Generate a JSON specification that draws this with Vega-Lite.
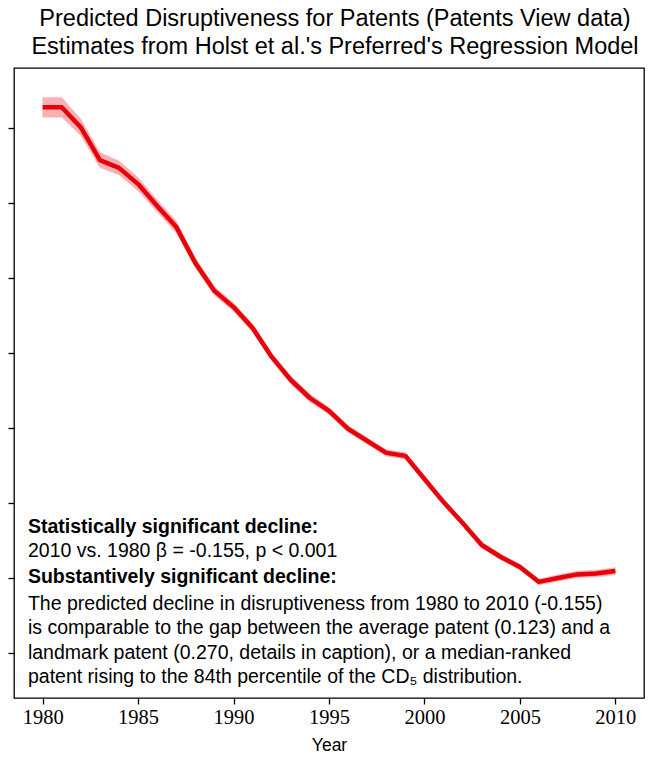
{
  "$schema": "https://vega.github.io/schema/vega-lite/v6.json",
  "autosize": "none",
  "width": 630,
  "height": 630,
  "padding": {"left": 14, "top": 68, "right": 8, "bottom": 59},
  "background": "white",
  "title": {
    "text": ["Predicted Disruptiveness for Patents (Patents View data)", "Estimates from Holst et al.'s Preferred's Regression Model"],
    "font": "Liberation Sans",
    "fontSize": 23.5,
    "fontWeight": "normal",
    "color": "black",
    "anchor": "middle",
    "lineHeight": 28,
    "offset": 10,
    "dx": 6
  },
  "datasets": {
    "pred": [
      {"year": 1980, "est": 0.1819, "lo": 0.1786, "hi": 0.1852},
      {"year": 1981, "est": 0.1819, "lo": 0.1786, "hi": 0.1852},
      {"year": 1982, "est": 0.1752, "lo": 0.1724, "hi": 0.1780},
      {"year": 1983, "est": 0.1643, "lo": 0.1618, "hi": 0.1668},
      {"year": 1984, "est": 0.1617, "lo": 0.1593, "hi": 0.1641},
      {"year": 1985, "est": 0.1563, "lo": 0.1541, "hi": 0.1585},
      {"year": 1986, "est": 0.1490, "lo": 0.1470, "hi": 0.1510},
      {"year": 1987, "est": 0.1420, "lo": 0.1400, "hi": 0.1440},
      {"year": 1988, "est": 0.1300, "lo": 0.1283, "hi": 0.1317},
      {"year": 1989, "est": 0.1207, "lo": 0.1192, "hi": 0.1222},
      {"year": 1990, "est": 0.1153, "lo": 0.1139, "hi": 0.1167},
      {"year": 1991, "est": 0.1083, "lo": 0.1069, "hi": 0.1097},
      {"year": 1992, "est": 0.0987, "lo": 0.0974, "hi": 0.1000},
      {"year": 1993, "est": 0.0910, "lo": 0.0897, "hi": 0.0923},
      {"year": 1994, "est": 0.0850, "lo": 0.0837, "hi": 0.0863},
      {"year": 1995, "est": 0.0807, "lo": 0.0795, "hi": 0.0819},
      {"year": 1996, "est": 0.0747, "lo": 0.0735, "hi": 0.0759},
      {"year": 1997, "est": 0.0707, "lo": 0.0696, "hi": 0.0718},
      {"year": 1998, "est": 0.0667, "lo": 0.0656, "hi": 0.0678},
      {"year": 1999, "est": 0.0657, "lo": 0.0646, "hi": 0.0668},
      {"year": 2000, "est": 0.0580, "lo": 0.0570, "hi": 0.0590},
      {"year": 2001, "est": 0.0503, "lo": 0.0493, "hi": 0.0513},
      {"year": 2002, "est": 0.0433, "lo": 0.0423, "hi": 0.0443},
      {"year": 2003, "est": 0.0360, "lo": 0.0350, "hi": 0.0370},
      {"year": 2004, "est": 0.0320, "lo": 0.0310, "hi": 0.0330},
      {"year": 2005, "est": 0.0287, "lo": 0.0277, "hi": 0.0297},
      {"year": 2006, "est": 0.0237, "lo": 0.0227, "hi": 0.0247},
      {"year": 2007, "est": 0.0250, "lo": 0.0239, "hi": 0.0261},
      {"year": 2008, "est": 0.0262, "lo": 0.0251, "hi": 0.0273},
      {"year": 2009, "est": 0.0265, "lo": 0.0253, "hi": 0.0277},
      {"year": 2010, "est": 0.0273, "lo": 0.0261, "hi": 0.0285}
    ]
  },
  "layer": [
    {
      "data": {"name": "pred"},
      "mark": {"type": "area", "color": "#e8000b", "opacity": 0.3, "stroke": "#e8000b", "strokeWidth": 1, "strokeOpacity": 0.35},
      "encoding": {
        "x": {
          "field": "year", "type": "quantitative",
          "scale": {"domain": [1978.5, 2011.5], "nice": false, "zero": false},
          "axis": {
            "title": "Year",
            "values": [1980, 1985, 1990, 1995, 2000, 2005, 2010],
            "format": "d",
            "grid": false,
            "domain": false,
            "tickColor": "black",
            "tickSize": 6,
            "tickWidth": 1.3,
            "labelFont": "Liberation Serif",
            "labelFontSize": 20.5,
            "labelColor": "black",
            "labelPadding": 3,
            "titleFont": "Liberation Sans",
            "titleFontSize": 17.5,
            "titleFontWeight": "normal",
            "titleColor": "black",
            "titlePadding": 9
          }
        },
        "y": {
          "field": "lo", "type": "quantitative",
          "scale": {"domain": [-0.015, 0.195], "nice": false, "zero": false},
          "axis": {
            "title": null,
            "values": [0, 0.025, 0.05, 0.075, 0.1, 0.125, 0.15, 0.175],
            "labels": false,
            "grid": false,
            "domain": false,
            "tickColor": "black",
            "tickSize": 6,
            "tickWidth": 1.3
          }
        },
        "y2": {"field": "hi"}
      }
    },
    {
      "data": {"name": "pred"},
      "mark": {"type": "line", "color": "#e8000b", "strokeWidth": 4.5, "strokeJoin": "round"},
      "encoding": {
        "x": {"field": "year", "type": "quantitative"},
        "y": {"field": "est", "type": "quantitative"}
      }
    },
    {
      "data": {"values": [{"label": "Statistically significant decline:"}]},
      "mark": {"type": "text", "align": "left", "baseline": "alphabetic", "font": "Liberation Sans", "fontSize": 19.5, "fontWeight": "bold", "color": "black"},
      "encoding": {
        "x": {"datum": 1979.23, "type": "quantitative"},
        "y": {"datum": 0.0400, "type": "quantitative"},
        "text": {"field": "label"}
      }
    },
    {
      "data": {"values": [{"label": "2010 vs. 1980 β = -0.155, p < 0.001"}]},
      "mark": {"type": "text", "align": "left", "baseline": "alphabetic", "font": "Liberation Sans", "fontSize": 19.5, "color": "black"},
      "encoding": {
        "x": {"datum": 1979.23, "type": "quantitative"},
        "y": {"datum": 0.0320, "type": "quantitative"},
        "text": {"field": "label"}
      }
    },
    {
      "data": {"values": [{"label": "Substantively significant decline:"}]},
      "mark": {"type": "text", "align": "left", "baseline": "alphabetic", "font": "Liberation Sans", "fontSize": 19.5, "fontWeight": "bold", "color": "black"},
      "encoding": {
        "x": {"datum": 1979.23, "type": "quantitative"},
        "y": {"datum": 0.0233, "type": "quantitative"},
        "text": {"field": "label"}
      }
    },
    {
      "data": {"values": [{"label": "The predicted decline in disruptiveness from 1980 to 2010 (-0.155)"}, {"label": "is comparable to the gap between the average patent (0.123) and a"}, {"label": "landmark patent (0.270, details in caption), or a median-ranked"}, {"label": "patent rising to the 84th percentile of the CD₅ distribution."}]},
      "transform": [{"aggregate": [{"op": "values", "field": "label", "as": "lines"}]}, {"calculate": "pluck(datum.lines, 'label')", "as": "txt"}],
      "mark": {"type": "text", "align": "left", "baseline": "alphabetic", "font": "Liberation Sans", "fontSize": 19.5, "color": "black", "lineHeight": 24.3},
      "encoding": {
        "x": {"datum": 1979.23, "type": "quantitative"},
        "y": {"datum": 0.0143, "type": "quantitative"},
        "text": {"field": "txt"}
      }
    }
  ],
  "config": {
    "view": {"stroke": "black", "strokeWidth": 1.3}
  }
}
